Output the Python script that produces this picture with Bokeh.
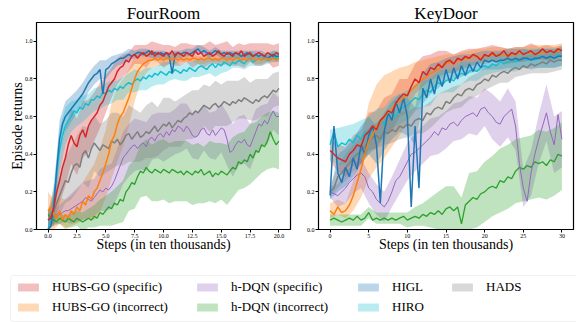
import numpy as np
from bokeh.plotting import figure
from bokeh.layouts import column, row
from bokeh.models import Range1d, Legend, LegendItem, FixedTicker, BoxAnnotation
from bokeh.embed import file_html
from bokeh.resources import INLINE

FONT = "Liberation Serif"

# ---------------- data ----------------
names = ["HUBS-GO (specific)", "HUBS-GO (incorrect)", "h-DQN (specific)",
         "h-DQN (incorrect)", "HIGL", "HIRO", "HADS"]
colors = ["#d62728", "#ff7f0e", "#9467bd", "#2ca02c", "#1f77b4", "#17becf", "#7f7f7f"]

fr_steps = [0.0, 0.25, 0.5, 0.75, 1.0, 1.25, 1.5, 1.75, 2.0, 2.25, 2.5, 2.75, 3.0, 3.25, 3.5, 3.75,
            4.0, 4.25, 4.5, 4.75, 5.0, 5.25, 5.5, 5.75, 6.0, 6.25, 6.5, 6.75, 7.0, 7.25, 7.5, 7.75,
            8.0, 8.25, 8.5, 8.75, 9.0, 9.25, 9.5, 9.75, 10.0, 10.25, 10.5, 10.75, 11.0, 11.25, 11.5, 11.75,
            12.0, 12.25, 12.5, 12.75, 13.0, 13.25, 13.5, 13.75, 14.0, 14.25, 14.5, 14.75, 15.0, 15.25, 15.5, 15.75,
            16.0, 16.25, 16.5, 16.75, 17.0, 17.25, 17.5, 17.75, 18.0, 18.25, 18.5, 18.75, 19.0, 19.25, 19.5, 19.75,
            20.0]

fr_hubs_spec = [0.05, 0.06, 0.12, 0.2, 0.26, 0.33, 0.38, 0.45, 0.5, 0.46, 0.44, 0.5, 0.53, 0.49, 0.55, 0.58,
                0.6, 0.62, 0.66, 0.68, 0.72, 0.76, 0.78, 0.8, 0.84, 0.86, 0.87, 0.9, 0.89, 0.92, 0.93, 0.91,
                0.93, 0.94, 0.92, 0.93, 0.95, 0.92, 0.94, 0.93, 0.92, 0.94, 0.93, 0.95, 0.92, 0.94, 0.93, 0.92,
                0.94, 0.93, 0.92, 0.95, 0.93, 0.94, 0.92, 0.93, 0.94, 0.92, 0.93, 0.95, 0.93, 0.92, 0.94, 0.93,
                0.92, 0.94, 0.93, 0.95, 0.92, 0.93, 0.94, 0.92, 0.93, 0.94, 0.93, 0.92, 0.94, 0.93, 0.92, 0.94,
                0.93]
fr_hubs_inc = [0.1, 0.12, 0.08, 0.06, 0.1, 0.05, 0.08, 0.06, 0.1, 0.08, 0.12, 0.1, 0.15, 0.13, 0.18, 0.16,
               0.2, 0.22, 0.26, 0.3, 0.35, 0.4, 0.47, 0.5, 0.56, 0.6, 0.62, 0.66, 0.7, 0.75, 0.8, 0.84,
               0.86, 0.88, 0.89, 0.9, 0.9, 0.91, 0.9, 0.91, 0.9, 0.91, 0.91, 0.9, 0.91, 0.9, 0.91, 0.9,
               0.91, 0.9, 0.91, 0.91, 0.9, 0.91, 0.9, 0.91, 0.91, 0.9, 0.91, 0.9, 0.91, 0.91, 0.9, 0.91,
               0.9, 0.91, 0.91, 0.9, 0.91, 0.9, 0.91, 0.91, 0.9, 0.91, 0.9, 0.91, 0.91, 0.9, 0.91, 0.9,
               0.91]
fr_hdqn_spec = [0.05, 0.06, 0.07, 0.07, 0.08, 0.09, 0.1, 0.1, 0.11, 0.12, 0.13, 0.14, 0.15, 0.17, 0.16, 0.15,
                0.17, 0.19, 0.21, 0.2, 0.22, 0.21, 0.23, 0.26, 0.3, 0.34, 0.38, 0.4, 0.42, 0.44, 0.45, 0.43,
                0.45, 0.46, 0.44, 0.48, 0.49, 0.47, 0.5, 0.51, 0.49, 0.52, 0.5, 0.53, 0.52, 0.55, 0.54, 0.52,
                0.55, 0.53, 0.5, 0.49, 0.5, 0.53, 0.54, 0.51, 0.5, 0.53, 0.5, 0.52, 0.54, 0.53, 0.48, 0.41,
                0.42, 0.45, 0.47, 0.46, 0.48, 0.45, 0.44, 0.48, 0.52, 0.56, 0.55, 0.58, 0.56, 0.6, 0.63, 0.6,
                0.6]
fr_hdqn_inc = [0.08, 0.06, 0.05, 0.04, 0.06, 0.05, 0.04, 0.06, 0.05, 0.04, 0.06, 0.05, 0.04, 0.05, 0.06, 0.05,
               0.07, 0.06, 0.09, 0.08, 0.1, 0.12, 0.11, 0.14, 0.13, 0.16, 0.15, 0.2, 0.22, 0.25, 0.24, 0.28,
               0.31, 0.3, 0.33, 0.31, 0.3, 0.32, 0.31, 0.3, 0.32, 0.31, 0.3, 0.32, 0.31, 0.3, 0.31, 0.29,
               0.31, 0.3, 0.29, 0.31, 0.3, 0.32, 0.29, 0.3, 0.31, 0.28, 0.3, 0.29, 0.31, 0.3, 0.29, 0.31,
               0.33, 0.32, 0.36, 0.35, 0.37, 0.36, 0.4, 0.38, 0.42, 0.41, 0.45, 0.44, 0.47, 0.52, 0.48, 0.45,
               0.47]
fr_higl = [0.0, 0.02, 0.12, 0.32, 0.48, 0.56, 0.6, 0.62, 0.64, 0.66, 0.68, 0.7, 0.72, 0.75, 0.78, 0.8,
           0.82, 0.83, 0.85, 0.72, 0.85, 0.86, 0.88, 0.89, 0.9, 0.91, 0.91, 0.92, 0.93, 0.92, 0.93, 0.94,
           0.94, 0.93, 0.94, 0.95, 0.93, 0.94, 0.93, 0.94, 0.93, 0.94, 0.92, 0.83, 0.93, 0.94, 0.93, 0.94,
           0.94, 0.93, 0.94, 0.95, 0.96, 0.94, 0.95, 0.94, 0.93, 0.94, 0.95, 0.94, 0.93, 0.94, 0.93, 0.94,
           0.93, 0.94, 0.93, 0.92, 0.93, 0.94, 0.93, 0.92, 0.93, 0.92, 0.93, 0.92, 0.91, 0.92, 0.93, 0.92,
           0.92]
fr_hiro = [0.0, 0.05, 0.15, 0.3, 0.42, 0.5, 0.55, 0.58, 0.6, 0.63, 0.62, 0.65, 0.64, 0.67, 0.66, 0.69,
           0.69, 0.71, 0.7, 0.73, 0.72, 0.74, 0.73, 0.75, 0.74, 0.76, 0.75, 0.77, 0.78, 0.77, 0.79, 0.8,
           0.79, 0.81, 0.8, 0.82, 0.81, 0.83, 0.82, 0.84, 0.83, 0.82, 0.84, 0.83, 0.85, 0.84, 0.83, 0.85,
           0.84, 0.86, 0.85, 0.84, 0.86, 0.87, 0.86, 0.85, 0.87, 0.88, 0.86, 0.88, 0.87, 0.89, 0.88, 0.87,
           0.89, 0.88, 0.9, 0.89, 0.88, 0.9, 0.91, 0.89, 0.9, 0.91, 0.9, 0.92, 0.91, 0.9, 0.92, 0.91,
           0.92]
fr_hads = [0.05, 0.07, 0.1, 0.14, 0.18, 0.22, 0.26, 0.25, 0.3, 0.34, 0.35, 0.33, 0.4, 0.42, 0.38, 0.43,
           0.46, 0.44, 0.42, 0.45, 0.44, 0.43, 0.47, 0.46, 0.48, 0.45, 0.47, 0.5, 0.51, 0.48, 0.5, 0.52,
           0.49, 0.5, 0.52, 0.51, 0.53, 0.55, 0.52, 0.54, 0.56, 0.55, 0.57, 0.54, 0.56, 0.58, 0.57, 0.59,
           0.6, 0.62, 0.61, 0.63, 0.62, 0.64, 0.66, 0.65, 0.64, 0.66, 0.67, 0.65, 0.66, 0.68, 0.67, 0.66,
           0.68, 0.67, 0.69, 0.68, 0.7, 0.69, 0.68, 0.67, 0.69, 0.68, 0.7, 0.71, 0.7, 0.72, 0.74, 0.73,
           0.75]

# half-widths of the shaded bands, every 0.5 step (0 .. 20)
fr_hubs_spec_hw = [0.05, 0.1, 0.12, 0.15, 0.15, 0.15, 0.15, 0.14, 0.13, 0.12,
                   0.1, 0.08, 0.07, 0.06, 0.05, 0.05, 0.05, 0.06, 0.05, 0.05,
                   0.06, 0.05, 0.05, 0.06, 0.05, 0.06, 0.05, 0.06, 0.06, 0.05,
                   0.06, 0.06, 0.05, 0.06, 0.06, 0.05, 0.06, 0.06, 0.05, 0.06,
                   0.06]
fr_hubs_inc_hw = [0.1, 0.08, 0.07, 0.08, 0.08, 0.09, 0.1, 0.12, 0.15, 0.17,
                  0.18, 0.2, 0.2, 0.18, 0.15, 0.12, 0.08, 0.06, 0.04, 0.03,
                  0.03, 0.03, 0.03, 0.02, 0.02, 0.02, 0.02, 0.02, 0.02, 0.02,
                  0.02, 0.02, 0.02, 0.02, 0.02, 0.02, 0.02, 0.02, 0.02, 0.02,
                  0.02]
fr_hdqn_spec_hw = [0.03, 0.04, 0.05, 0.06, 0.08, 0.09, 0.1, 0.1, 0.1, 0.11,
                   0.12, 0.12, 0.13, 0.14, 0.14, 0.14, 0.13, 0.13, 0.12, 0.12,
                   0.13, 0.12, 0.12, 0.13, 0.12, 0.12, 0.13, 0.12, 0.12, 0.13,
                   0.13, 0.14, 0.14, 0.13, 0.13, 0.12, 0.12, 0.11, 0.11, 0.1,
                   0.1]
fr_hdqn_inc_hw = [0.03, 0.03, 0.03, 0.03, 0.04, 0.04, 0.05, 0.05, 0.06, 0.07,
                  0.08, 0.09, 0.1, 0.11, 0.12, 0.13, 0.14, 0.15, 0.15, 0.16,
                  0.16, 0.16, 0.16, 0.16, 0.16, 0.16, 0.16, 0.15, 0.16, 0.16,
                  0.15, 0.16, 0.16, 0.15, 0.15, 0.16, 0.15, 0.15, 0.15, 0.15,
                  0.15]
fr_higl_hw = [0.02, 0.08, 0.1, 0.08, 0.07, 0.06, 0.06, 0.05, 0.05, 0.05,
              0.05, 0.04, 0.03, 0.03, 0.03, 0.02, 0.02, 0.02, 0.02, 0.02,
              0.02, 0.02, 0.02, 0.02, 0.02, 0.02, 0.02, 0.02, 0.02, 0.02,
              0.02, 0.02, 0.02, 0.02, 0.02, 0.02, 0.02, 0.02, 0.02, 0.02,
              0.02]
fr_hiro_hw = [0.02, 0.1, 0.12, 0.1, 0.08, 0.07, 0.07, 0.06, 0.06, 0.06,
              0.06, 0.06, 0.05, 0.06, 0.05, 0.06, 0.05, 0.06, 0.05, 0.05,
              0.06, 0.05, 0.05, 0.04, 0.05, 0.04, 0.05, 0.04, 0.04, 0.05,
              0.04, 0.04, 0.03, 0.04, 0.03, 0.04, 0.03, 0.03, 0.03, 0.03,
              0.03]
fr_hads_hw = [0.04, 0.08, 0.1, 0.12, 0.14, 0.15, 0.15, 0.16, 0.15, 0.14,
              0.14, 0.15, 0.14, 0.13, 0.15, 0.14, 0.13, 0.14, 0.15, 0.13,
              0.14, 0.13, 0.12, 0.13, 0.12, 0.13, 0.12, 0.11, 0.12, 0.12,
              0.11, 0.12, 0.11, 0.1, 0.11, 0.1, 0.11, 0.1, 0.1, 0.09,
              0.09]

kd_steps = [0.0, 0.5, 1.0, 1.5, 2.0, 2.5, 3.0, 3.5, 4.0, 4.5,
            5.0, 5.5, 6.0, 6.5, 7.0, 7.5, 8.0, 8.5, 9.0, 9.5,
            10.0, 10.5, 11.0, 11.5, 12.0, 12.5, 13.0, 13.5, 14.0, 14.5,
            15.0, 15.5, 16.0, 16.5, 17.0, 17.5, 18.0, 18.5, 19.0, 19.5,
            20.0, 20.5, 21.0, 21.5, 22.0, 22.5, 23.0, 23.5, 24.0, 24.5,
            25.0, 25.5, 26.0, 26.5, 27.0, 27.5, 28.0, 28.5, 29.0, 29.5,
            30.0]

kd_hubs_spec = [0.42, 0.4, 0.38, 0.37, 0.36, 0.4, 0.42, 0.45, 0.44, 0.5,
                0.52, 0.55, 0.53, 0.58, 0.6, 0.63, 0.62, 0.67, 0.7, 0.72,
                0.71, 0.76, 0.8, 0.78, 0.84, 0.82, 0.86, 0.85, 0.88, 0.86,
                0.89, 0.9, 0.88, 0.91, 0.9, 0.92, 0.91, 0.93, 0.92, 0.9,
                0.93, 0.92, 0.94, 0.92, 0.93, 0.95, 0.92, 0.94, 0.93, 0.95,
                0.93, 0.94, 0.95, 0.93, 0.94, 0.96, 0.94, 0.95, 0.94, 0.96,
                0.95]
kd_hubs_inc = [0.1, 0.08, 0.12, 0.09, 0.1, 0.13, 0.18, 0.25, 0.32, 0.4,
               0.47, 0.5, 0.55, 0.57, 0.6, 0.62, 0.64, 0.67, 0.68, 0.7,
               0.72, 0.74, 0.76, 0.78, 0.8, 0.81, 0.83, 0.84, 0.85, 0.87,
               0.88, 0.89, 0.88, 0.9, 0.9, 0.91, 0.91, 0.92, 0.92, 0.91,
               0.92, 0.92, 0.93, 0.92, 0.93, 0.93, 0.92, 0.93, 0.93, 0.94,
               0.93, 0.94, 0.94, 0.93, 0.94, 0.94, 0.94, 0.95, 0.94, 0.95,
               0.95]
kd_hdqn_spec = [0.2, 0.19, 0.18, 0.2, 0.22, 0.25, 0.27, 0.29, 0.3, 0.28,
                0.22, 0.2, 0.16, 0.14, 0.12, 0.15, 0.2, 0.26, 0.28, 0.32,
                0.36, 0.4, 0.41, 0.43, 0.45, 0.47, 0.49, 0.52, 0.5, 0.54,
                0.53, 0.56, 0.57, 0.55, 0.58, 0.6, 0.61, 0.62, 0.6, 0.64,
                0.65, 0.62, 0.6, 0.57, 0.56, 0.6, 0.62, 0.64, 0.55, 0.35,
                0.22, 0.15, 0.3, 0.4, 0.48, 0.55, 0.62, 0.52, 0.45, 0.61,
                0.48]
kd_hdqn_inc = [0.05, 0.06, 0.05, 0.04, 0.05, 0.06, 0.05, 0.07, 0.05, 0.06,
               0.09, 0.05, 0.06, 0.05, 0.06, 0.05, 0.06, 0.05, 0.06, 0.07,
               0.05, 0.06, 0.07, 0.06, 0.08, 0.07, 0.09, 0.08, 0.1, 0.08,
               0.11, 0.12, 0.1, 0.12, 0.03, 0.13, 0.15, 0.17, 0.16, 0.19,
               0.2, 0.22, 0.23, 0.22, 0.26, 0.25, 0.28, 0.27, 0.31, 0.33,
               0.32, 0.34, 0.33, 0.36, 0.35, 0.36, 0.34, 0.37, 0.36, 0.4,
               0.39]
kd_higl = [0.18, 0.55, 0.3, 0.25, 0.33, 0.28, 0.38, 0.32, 0.45, 0.4,
           0.5, 0.55, 0.45, 0.14, 0.52, 0.62, 0.58, 0.68, 0.62, 0.7,
           0.6, 0.12, 0.55, 0.22, 0.75, 0.7, 0.8, 0.72, 0.82, 0.76,
           0.85, 0.78, 0.86, 0.8, 0.87, 0.82, 0.88, 0.84, 0.89, 0.86,
           0.9, 0.89, 0.9, 0.89, 0.9, 0.9, 0.91, 0.9, 0.91, 0.9,
           0.91, 0.91, 0.9, 0.91, 0.91, 0.92, 0.91, 0.92, 0.91, 0.92,
           0.92]
kd_hiro = [0.45, 0.52, 0.44, 0.46, 0.45, 0.48, 0.46, 0.5, 0.48, 0.52,
           0.5, 0.54, 0.55, 0.58, 0.56, 0.6, 0.62, 0.6, 0.64, 0.65,
           0.66, 0.68, 0.7, 0.69, 0.72, 0.74, 0.73, 0.76, 0.78, 0.77,
           0.79, 0.8, 0.79, 0.82, 0.83, 0.82, 0.84, 0.85, 0.84, 0.86,
           0.87, 0.86, 0.88, 0.87, 0.89, 0.88, 0.89, 0.9, 0.89, 0.9,
           0.91, 0.9, 0.91, 0.9, 0.91, 0.92, 0.91, 0.92, 0.91, 0.93,
           0.92]
kd_hads = [0.2, 0.22, 0.28, 0.3, 0.33, 0.35, 0.38, 0.4, 0.42, 0.44,
           0.47, 0.49, 0.5, 0.48, 0.52, 0.51, 0.53, 0.52, 0.55, 0.54,
           0.56, 0.55, 0.58, 0.59, 0.58, 0.62, 0.61, 0.64, 0.65, 0.64,
           0.68, 0.67, 0.7, 0.72, 0.71, 0.74, 0.75, 0.74, 0.77, 0.78,
           0.8, 0.79, 0.82, 0.81, 0.83, 0.84, 0.83, 0.85, 0.86, 0.85,
           0.87, 0.86, 0.88, 0.87, 0.88, 0.89, 0.88, 0.9, 0.89, 0.9,
           0.9]

# half-widths of the shaded bands, every 1.0 step (0 .. 30)
kd_hubs_spec_hw = [0.06, 0.07, 0.08, 0.08, 0.09, 0.1, 0.1, 0.1, 0.1, 0.1,
                   0.09, 0.08, 0.08, 0.07, 0.07, 0.06, 0.05, 0.05, 0.05, 0.04,
                   0.04, 0.04, 0.04, 0.04, 0.04, 0.04, 0.04, 0.03, 0.04, 0.03,
                   0.03]
kd_hubs_inc_hw = [0.04, 0.04, 0.04, 0.08, 0.15, 0.2, 0.22, 0.22, 0.2, 0.18,
                  0.15, 0.13, 0.1, 0.08, 0.07, 0.05, 0.05, 0.04, 0.04, 0.04,
                  0.04, 0.04, 0.04, 0.04, 0.04, 0.04, 0.04, 0.04, 0.04, 0.04,
                  0.04]
kd_hdqn_spec_hw = [0.03, 0.06, 0.08, 0.08, 0.08, 0.08, 0.08, 0.08, 0.08, 0.09,
                   0.1, 0.1, 0.1, 0.1, 0.1, 0.1, 0.1, 0.1, 0.1, 0.1,
                   0.1, 0.12, 0.12, 0.13, 0.13, 0.1, 0.12, 0.13, 0.15, 0.15,
                   0.15]
kd_hdqn_inc_hw = [0.03, 0.03, 0.03, 0.03, 0.03, 0.03, 0.03, 0.03, 0.03, 0.03,
                  0.04, 0.05, 0.06, 0.08, 0.1, 0.12, 0.13, 0.14, 0.15, 0.15,
                  0.16, 0.16, 0.17, 0.17, 0.17, 0.17, 0.17, 0.18, 0.18, 0.18,
                  0.18]
kd_higl_hw = [0.02, 0.1, 0.1, 0.1, 0.1, 0.1, 0.1, 0.1, 0.1, 0.1,
              0.1, 0.1, 0.08, 0.08, 0.07, 0.06, 0.06, 0.06, 0.05, 0.05,
              0.05, 0.05, 0.05, 0.05, 0.05, 0.05, 0.05, 0.05, 0.05, 0.05,
              0.05]
kd_hiro_hw = [0.08, 0.1, 0.1, 0.1, 0.1, 0.1, 0.09, 0.09, 0.08, 0.08,
              0.08, 0.07, 0.07, 0.07, 0.06, 0.06, 0.06, 0.06, 0.05, 0.05,
              0.05, 0.05, 0.05, 0.05, 0.05, 0.05, 0.05, 0.05, 0.05, 0.05,
              0.05]
kd_hads_hw = [0.03, 0.06, 0.07, 0.07, 0.07, 0.07, 0.07, 0.07, 0.07, 0.07,
              0.07, 0.07, 0.07, 0.07, 0.07, 0.06, 0.06, 0.06, 0.06, 0.06,
              0.06, 0.06, 0.05, 0.05, 0.05, 0.05, 0.05, 0.05, 0.05, 0.05,
              0.05]

fr_xticks = [0.0, 2.5, 5.0, 7.5, 10.0, 12.5, 15.0, 17.5, 20.0]
fr_xtick_labels = ["0.0", "2.5", "5.0", "7.5", "10.0", "12.5", "15.0", "17.5", "20.0"]
kd_xticks = [0, 5, 10, 15, 20, 25, 30]
kd_xtick_labels = ["0", "5", "10", "15", "20", "25", "30"]
yticks = [0.0, 0.2, 0.4, 0.6, 0.8, 1.0]
ytick_labels = ["0.0", "0.2", "0.4", "0.6", "0.8", "1.0"]

fr_means = [fr_hubs_spec, fr_hubs_inc, fr_hdqn_spec, fr_hdqn_inc, fr_higl, fr_hiro, fr_hads]
fr_hws = [fr_hubs_spec_hw, fr_hubs_inc_hw, fr_hdqn_spec_hw, fr_hdqn_inc_hw, fr_higl_hw, fr_hiro_hw, fr_hads_hw]
kd_means = [kd_hubs_spec, kd_hubs_inc, kd_hdqn_spec, kd_hdqn_inc, kd_higl, kd_hiro, kd_hads]
kd_hws = [kd_hubs_spec_hw, kd_hubs_inc_hw, kd_hdqn_spec_hw, kd_hdqn_inc_hw, kd_higl_hw, kd_hiro_hw, kd_hads_hw]

for m, h in zip(fr_means, fr_hws):
    assert len(m) == len(fr_steps), len(m)
    assert len(h) == len(fr_steps[::2]), len(h)
for m, h in zip(kd_means, kd_hws):
    assert len(m) == len(kd_steps), len(m)
    assert len(h) == len(kd_steps[::2]), len(h)

line_order = [6, 3, 2, 5, 4, 1, 0]
line_widths = [1.5, 1.5, 1.0, 1.3, 1.5, 1.5, 1.5]


def make_panel(title, steps, means, hws, xr, xticks, xlabels, fwidth, bleft, bright, ylabel):
    p = figure(frame_width=fwidth, frame_height=207, x_range=Range1d(*xr), y_range=Range1d(0, 1.1),
               toolbar_location=None, output_backend="svg", title=title,
               min_border_left=bleft, min_border_right=bright, min_border_top=22, min_border_bottom=36)
    p.title.align = "center"
    p.title.text_font = FONT
    p.title.text_font_size = "17px"
    p.title.text_font_style = "normal"
    p.title.text_color = "black"
    p.title.standoff = 0
    p.title.offset = 0
    p.background_fill_color = "white"
    p.border_fill_color = "white"
    p.outline_line_color = "black"
    p.outline_line_width = 1.2
    p.xgrid.visible = False
    p.ygrid.visible = False

    xs = np.array(steps)
    bx = xs[::2]
    for i in range(len(means)):
        m = np.array(means[i])[::2]
        h = np.array(hws[i])
        p.varea(x=bx, y1=m - h, y2=m + h, fill_color=colors[i], fill_alpha=0.3)
    for i in line_order:
        p.line(xs, means[i], line_color=colors[i], line_width=line_widths[i])

    for ax in (p.xaxis[0], p.yaxis[0]):
        ax.major_label_text_font = FONT
        ax.major_label_text_font_size = "6px"
        ax.major_label_text_color = "black"
        ax.major_tick_out = 3
        ax.major_tick_in = 0
        ax.minor_tick_out = 0
        ax.minor_tick_in = 0
        ax.axis_line_color = "black"
        ax.major_tick_line_color = "black"
        ax.major_label_standoff = 1
        ax.axis_label_text_font = FONT
        ax.axis_label_text_font_style = "normal"
        ax.axis_label_text_font_size = "14px"
        ax.axis_label_text_color = "black"
    p.xaxis.axis_label_standoff = -4
    p.yaxis.axis_label_standoff = -3
    p.xaxis.ticker = FixedTicker(ticks=xticks)
    p.xaxis.major_label_overrides = {t: l for t, l in zip(xticks, xlabels)}
    p.yaxis.ticker = FixedTicker(ticks=yticks)
    p.yaxis.major_label_overrides = {t: l for t, l in zip(yticks, ytick_labels)}
    p.xaxis.axis_label = "Steps (in ten thousands)"
    if ylabel:
        p.yaxis.axis_label = ylabel
    return p


p1 = make_panel("FourRoom", fr_steps, fr_means, fr_hws, (-1.0, 21.0), fr_xticks, fr_xtick_labels,
                254, 36, 4, "Episode returns")
p2 = make_panel("KeyDoor", kd_steps, kd_means, kd_hws, (-1.5, 31.5), kd_xticks, kd_xtick_labels,
                255, 24, 3, None)

# legend strip (ranges equal to pixels of the strip)
pl = figure(width=576, height=57, x_range=Range1d(0, 576), y_range=Range1d(0, 57),
            toolbar_location=None, output_backend="svg", min_border=0)
pl.axis.visible = False
pl.xgrid.visible = False
pl.ygrid.visible = False
pl.outline_line_color = None
pl.add_layout(BoxAnnotation(left=10, right=640, bottom=1, top=47, fill_alpha=0,
                            line_color="#cccccc", line_width=1, border_radius=3))
renderers = []
for i, nm in enumerate(names):
    # placeholder renderers (NaN coordinates: nothing drawn) that carry the legend swatch style
    r = pl.quad(left=[np.nan], right=[np.nan], top=[np.nan], bottom=[np.nan],
                fill_color=colors[i], fill_alpha=0.3, line_alpha=0)
    renderers.append(r)

groups = [[0, 1], [2, 3], [4, 5], [6]]
group_x = [15, 194, 355, 449]
for g, gx in zip(groups, group_x):
    leg = Legend(items=[LegendItem(label=names[i], renderers=[renderers[i]]) for i in g],
                 orientation="vertical", location=(gx, 5 if len(g) == 2 else 25),
                 label_text_font=FONT, label_text_font_size="13px", label_text_color="black",
                 glyph_width=26, glyph_height=10, label_standoff=11, spacing=0,
                 padding=0, margin=0, border_line_color=None, background_fill_alpha=0,
                 label_height=20)
    pl.add_layout(leg)

layout = column(row(p1, p2), pl)
open("out.html", "w").write(file_html(layout, INLINE))
